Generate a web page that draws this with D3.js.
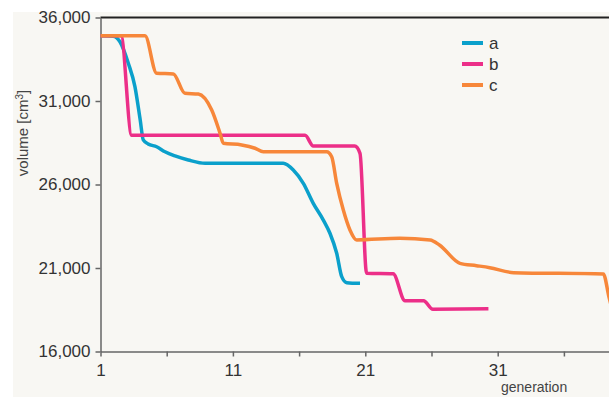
<!DOCTYPE html>
<html>
<head>
<meta charset="utf-8">
<script src="https://cdn.jsdelivr.net/npm/d3@7"></script>
<style>
  body { margin: 0; background: #fff; }
  svg { display: block; font-family: "Liberation Sans", Arial, sans-serif; }
  .axis text { font-size: 17px; fill: #333; }
  .axis path, .axis line { stroke: #666; stroke-width: 1.5; }
</style>
</head>
<body>
<div id="chart"></div>
<script>
// series: [generation, volume cm3]
var seriesA = [[1,34900],[1.95,34880],[2.47,34550],[3.1,33260],[3.6,31860],[4.0,29860],[4.23,28670],[4.6,28430],
  [5.24,28260],[5.87,27960],[6.63,27710],[7.63,27470],[8.9,27270],[14.8,27270],[15.56,26870],[16.32,26070],
  [17.07,24870],[17.83,23870],[18.33,23080],[18.84,21880],[19.22,20480],[19.6,20120],[20.6,20080]];
var seriesB = [[1,34900],[2.55,34900],[3.35,28950],[16.45,28950],[17.07,28300],[20.2,28300],[20.6,27870],
  [21.1,20680],[23.1,20650],[24.0,19040],[25.4,19040],[26.1,18530],[30.3,18560]];
var seriesC = [[1,34900],[4.36,34900],[5.24,32660],[6.5,32620],[7.38,31460],[8.39,31420],[9.4,30460],
  [10.03,29070],[10.28,28470],[11.66,28370],[12.67,28170],[13.3,27960],[18.08,27960],[18.46,27660],
  [18.84,26070],[19.34,24470],[19.84,23280],[20.35,22680],[23.6,22780],[25.9,22680],[26.6,22380],
  [28.15,21280],[29.4,21140],[30.4,21020],[32.2,20720],[38.98,20640],[39.4,19280],[39.8,18000]];
var seriesNames = ["a", "b", "c"];
var seriesColors = ["#0ba0cb", "#ec2f88", "#f7873a"];
var xTicks = [1, 6, 11, 16, 21, 26, 31, 36];
var xTickLabels = ["1", "", "11", "", "21", "", "31", ""];
var yTicks = [16000, 21000, 26000, 31000, 36000];

var width = 609, height = 399;

var svg = d3.select("#chart").append("svg")
    .attr("width", width)
    .attr("height", height);

svg.append("rect")
    .attr("x", 13).attr("y", 12)
    .attr("width", width - 13).attr("height", 385)
    .attr("fill", "#f8f7f3");

var x = d3.scaleLinear().domain([1, 41]).range([100.5, 630.1]),
    y = d3.scaleLinear().domain([16000, 36000]).range([351.5, 17.5]);

// top border
svg.append("line")
    .attr("x1", x(1)).attr("x2", width)
    .attr("y1", y(36000)).attr("y2", y(36000))
    .attr("stroke", "#222").attr("stroke-width", 2);

svg.append("g")
    .attr("class", "axis axis--x")
    .attr("transform", "translate(0," + y(16000) + ")")
    .call(d3.axisBottom(x).tickValues(xTicks).tickSize(5).tickSizeOuter(0).tickPadding(7)
        .tickFormat(function (d, i) { return xTickLabels[i]; }));

svg.append("g")
    .attr("class", "axis axis--y")
    .attr("transform", "translate(" + x(1) + ",0)")
    .call(d3.axisLeft(y).tickValues(yTicks).tickSize(5).tickSizeOuter(0).tickPadding(5)
        .tickFormat(d3.format(",")));

var line = d3.line()
    .x(function (d) { return x(d[0]); })
    .y(function (d) { return y(d[1]); })
    .curve(d3.curveMonotoneX);

[seriesA, seriesB, seriesC].forEach(function (s, i) {
    svg.append("path")
        .datum(s)
        .attr("fill", "none")
        .attr("stroke", seriesColors[i])
        .attr("stroke-width", 3.5)
        .attr("stroke-linejoin", "round")
        .attr("d", line);
});

// legend
var legend = svg.append("g").attr("transform", "translate(462,43)");
seriesNames.forEach(function (n, i) {
    var g = legend.append("g").attr("transform", "translate(0," + (i * 21) + ")");
    g.append("line").attr("x1", 0).attr("x2", 21).attr("y1", 0).attr("y2", 0)
        .attr("stroke", seriesColors[i]).attr("stroke-width", 4);
    g.append("text").attr("x", 27).attr("y", 6)
        .style("font-size", "17px").attr("fill", "#333").text(n);
});

// axis titles
var yl = svg.append("text")
    .attr("transform", "translate(28,133) rotate(-90)")
    .attr("text-anchor", "middle")
    .style("font-size", "15px").attr("fill", "#444");
yl.append("tspan").text("volume [cm");
yl.append("tspan").attr("baseline-shift", "super").style("font-size", "10px").text("3");
yl.append("tspan").text("]");

svg.append("text")
    .attr("x", 501).attr("y", 392)
    .style("font-size", "14px").attr("fill", "#444")
    .text("generation");
</script>
</body>
</html>
